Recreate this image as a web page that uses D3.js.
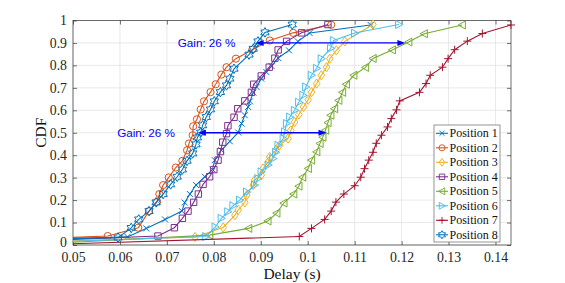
<!DOCTYPE html>
<html><head><meta charset="utf-8">
<script src="https://cdn.jsdelivr.net/npm/d3@7"></script>
<style>body{margin:0;background:#fff;} svg{display:block;}</style>
</head><body>
<svg id="chart" width="565" height="283"></svg>
<script>
// ---------- data ----------
const seriesNames = ["Position 1","Position 2","Position 3","Position 4","Position 5","Position 6","Position 7","Position 8"];
const seriesColors = ["#0072BD","#D95319","#EDB120","#7E2F8E","#77AC30","#4DBEEE","#A2142F","#0072BD"];
const seriesMarkers = ["x","o","d","s","<",">","+","h"];

const pos1Delay = [0.045,0.0616,0.0656,0.0696,0.0732,0.0738,0.0749,0.0762,0.0781,0.0797,0.0802,0.0816,0.0834,0.0852,0.0859,0.0866,0.0873,0.0877,0.0884,0.0891,0.0901,0.0912,0.0923,0.0937,0.0960,0.0979,0.1004,0.1134];
const pos1Cdf   = [0.025,0.036,0.074,0.114,0.151,0.189,0.227,0.267,0.304,0.336,0.378,0.422,0.462,0.501,0.541,0.578,0.615,0.640,0.679,0.704,0.741,0.770,0.797,0.833,0.867,0.907,0.944,0.980];

const pos2Delay = [0.045,0.0574,0.0639,0.0662,0.0679,0.0684,0.0692,0.0704,0.0719,0.0733,0.0743,0.0747,0.0755,0.0756,0.0764,0.0772,0.0779,0.0793,0.0804,0.0816,0.0827,0.0847,0.0882,0.0919,0.0969,0.1050];
const pos2Cdf   = [0.030,0.040,0.077,0.151,0.192,0.227,0.267,0.301,0.345,0.375,0.422,0.452,0.489,0.529,0.560,0.604,0.640,0.681,0.716,0.759,0.792,0.830,0.870,0.911,0.945,0.981];

const pos3Delay = [0.045,0.0760,0.0820,0.0845,0.0852,0.0866,0.0870,0.0884,0.0887,0.0901,0.0905,0.0916,0.0919,0.0932,0.0940,0.0958,0.0964,0.0972,0.0981,0.0991,0.1001,0.1008,0.1019,0.1029,0.1040,0.1047,0.1061,0.1079,0.1139];
const pos3Cdf   = [0.015,0.036,0.078,0.133,0.156,0.190,0.222,0.267,0.289,0.311,0.341,0.370,0.392,0.422,0.444,0.474,0.511,0.548,0.581,0.615,0.647,0.681,0.719,0.756,0.792,0.830,0.867,0.907,0.982];

const pos4Delay = [0.045,0.0681,0.0716,0.0733,0.0745,0.0757,0.0767,0.0777,0.0791,0.0800,0.0809,0.0814,0.0819,0.0827,0.0830,0.0843,0.0851,0.0866,0.0880,0.0885,0.0901,0.0918,0.0930,0.0937,0.0955,0.0987,0.1043];
const pos4Cdf   = [0.021,0.040,0.077,0.119,0.151,0.190,0.227,0.270,0.304,0.336,0.378,0.416,0.458,0.496,0.531,0.569,0.607,0.642,0.680,0.716,0.753,0.792,0.832,0.869,0.907,0.945,0.982];

const pos5Delay = [0.045,0.0791,0.0874,0.0915,0.0934,0.0949,0.0970,0.0981,0.0989,0.1001,0.1008,0.1019,0.1026,0.1032,0.1038,0.1043,0.1049,0.1057,0.1066,0.1074,0.1082,0.1098,0.1123,0.1139,0.1180,0.1215,0.1248,0.1329];
const pos5Cdf   = [0.007,0.044,0.074,0.107,0.142,0.187,0.227,0.262,0.302,0.341,0.378,0.415,0.452,0.480,0.511,0.545,0.578,0.607,0.644,0.680,0.716,0.756,0.791,0.831,0.869,0.904,0.941,0.980];

const pos6Delay = [0.045,0.0783,0.0803,0.0816,0.0830,0.0841,0.0855,0.0870,0.0887,0.0894,0.0901,0.0916,0.0926,0.0932,0.0937,0.0948,0.0951,0.0955,0.0962,0.0972,0.0981,0.0990,0.0996,0.1008,0.1019,0.1029,0.1049,0.1055,0.1100,0.1194];
const pos6Cdf   = [0.013,0.038,0.080,0.119,0.148,0.175,0.200,0.236,0.267,0.296,0.326,0.356,0.385,0.413,0.444,0.474,0.504,0.541,0.570,0.600,0.636,0.667,0.704,0.756,0.787,0.830,0.876,0.911,0.944,0.982];

const pos7Delay = [0.045,0.0982,0.1008,0.1036,0.1050,0.1060,0.1077,0.1100,0.1113,0.1121,0.1130,0.1139,0.1146,0.1157,0.1170,0.1178,0.1189,0.1196,0.1238,0.1252,0.1261,0.1287,0.1299,0.1313,0.1340,0.1372,0.1433];
const pos7Cdf   = [0.002,0.038,0.074,0.114,0.151,0.191,0.227,0.264,0.302,0.340,0.378,0.413,0.453,0.489,0.526,0.563,0.602,0.642,0.680,0.719,0.756,0.792,0.830,0.870,0.908,0.942,0.980];

const pos8Delay = [0.045,0.0596,0.0624,0.0640,0.0662,0.0677,0.0692,0.0708,0.0722,0.0733,0.0743,0.0755,0.0762,0.0765,0.0772,0.0776,0.0784,0.0793,0.0801,0.0814,0.0827,0.0834,0.0843,0.0875,0.0884,0.0894,0.0909,0.0967];
const pos8Cdf   = [0.028,0.033,0.076,0.114,0.151,0.190,0.227,0.270,0.304,0.336,0.375,0.408,0.448,0.479,0.501,0.533,0.570,0.604,0.640,0.681,0.711,0.741,0.785,0.848,0.874,0.907,0.947,0.982];

const xTicks = [0.05,0.06,0.07,0.08,0.09,0.1,0.11,0.12,0.13,0.14];
const xTickLabels = ["0.05","0.06","0.07","0.08","0.09","0.1","0.11","0.12","0.13","0.14"];
const yTicks = [0,0.1,0.2,0.3,0.4,0.5,0.6,0.7,0.8,0.9,1];
const yTickLabels = ["0","0.1","0.2","0.3","0.4","0.5","0.6","0.7","0.8","0.9","1"];

// annotations (data units)
const arrowCdf  = [0.9, 0.5];
const arrowFrom = [0.0889, 0.0766];
const arrowTo   = [0.1208, 0.1040];
const gainText  = ["Gain: 26 %", "Gain: 26 %"];
const gainTextDelay = [0.0723, 0.0594];

const allDelay = [pos1Delay,pos2Delay,pos3Delay,pos4Delay,pos5Delay,pos6Delay,pos7Delay,pos8Delay];
const allCdf   = [pos1Cdf,pos2Cdf,pos3Cdf,pos4Cdf,pos5Cdf,pos6Cdf,pos7Cdf,pos8Cdf];

// ---------- layout ----------
const L = 73, R = 511, T = 20.5, B = 245;
const x = d3.scaleLinear().domain([0.05, 0.1433]).range([L, R]);
const y = d3.scaleLinear().domain([0, 1]).range([B, T]);

const svg = d3.select("#chart");
const serif = "'Liberation Serif','Times New Roman',serif";
const sans = "'Liberation Sans',Arial,Helvetica,sans-serif";

svg.append("defs").append("clipPath").attr("id","plotclip")
  .append("rect").attr("x",L).attr("y",T-6).attr("width",R-L).attr("height",B-T+6);

// grid
const grid = svg.append("g");
grid.selectAll(".gx").data(xTicks).enter().append("line")
  .attr("x1",d=>x(d)).attr("x2",d=>x(d)).attr("y1",T).attr("y2",B)
  .attr("stroke","#e3e3e3").attr("stroke-width",0.8);
grid.selectAll(".gy").data(yTicks).enter().append("line")
  .attr("x1",L).attr("x2",R).attr("y1",d=>y(d)).attr("y2",d=>y(d))
  .attr("stroke","#e3e3e3").attr("stroke-width",0.8);

// axes via d3 axis (inner ticks)
const axColor = "#333";
const xAxisB = d3.axisBottom(x).tickValues(xTicks).tickFormat((d,i)=>xTickLabels[i]).tickSizeInner(-4).tickSizeOuter(0).tickPadding(7);
const xAxisT = d3.axisTop(x).tickValues(xTicks).tickFormat("").tickSizeInner(-4).tickSizeOuter(0);
const yAxisL = d3.axisLeft(y).tickValues(yTicks).tickFormat((d,i)=>yTickLabels[i]).tickSizeInner(-4).tickSizeOuter(0).tickPadding(6);
const yAxisR = d3.axisRight(y).tickValues(yTicks).tickFormat("").tickSizeInner(-4).tickSizeOuter(0);

function styleAxis(g){
  g.select(".domain").remove();
  g.selectAll(".tick line").attr("stroke",axColor).attr("stroke-width",0.7);
  g.selectAll(".tick text").attr("fill","#262626").style("font-family",serif).style("font-size","13.8px");
}
svg.append("g").attr("transform",`translate(0,${B})`).call(xAxisB).call(styleAxis);
svg.append("g").attr("transform",`translate(0,${T})`).call(xAxisT).call(styleAxis);
const yAxG = svg.append("g").attr("transform",`translate(${L},0)`).call(yAxisL).call(styleAxis);
// lift the "0" label a little so it clears the first x label
yAxG.selectAll(".tick text").filter(d=>d===0).attr("dy","0.12em");

svg.append("rect").attr("x",L).attr("y",T).attr("width",R-L).attr("height",B-T)
  .attr("fill","none").attr("stroke",axColor).attr("stroke-width",0.7);
svg.append("g").attr("transform",`translate(${R},0)`).call(yAxisR).call(styleAxis);

// axis labels
svg.append("text").attr("x",(L+R)/2).attr("y",278.5).attr("text-anchor","middle")
  .style("font-family",serif).style("font-size","15.5px").attr("fill","#111").text("Delay (s)");
svg.append("text").attr("transform",`translate(46,${(T+B)/2}) rotate(-90)`).attr("text-anchor","middle")
  .style("font-family",serif).style("font-size","15.5px").attr("fill","#111").text("CDF");

// markers
function hexagram(r){
  const pts=[]; const ri=r/Math.sqrt(3);
  for(let k=0;k<12;k++){const a=-Math.PI/2+k*Math.PI/6; const rr=k%2===0?r:ri; pts.push([rr*Math.cos(a),rr*Math.sin(a)]);}
  return "M"+pts.map(p=>p[0].toFixed(2)+","+p[1].toFixed(2)).join("L")+"Z";
}
function markerPath(t){
  switch(t){
    case "x": return "M-3,-3L3,3M-3,3L3,-3";
    case "o": return "M3.6,0A3.6,3.6 0 1,1 -3.6,0A3.6,3.6 0 1,1 3.6,0Z";
    case "d": return "M0,-4.6L3.3,0L0,4.6L-3.3,0Z";
    case "s": return "M-3.2,-3.2H3.2V3.2H-3.2Z";
    case "<": return "M-4,0L3.2,-4L3.2,4Z";
    case ">": return "M4,0L-3.2,-4L-3.2,4Z";
    case "+": return "M-4,0H4M0,-4V4";
    case "h": return hexagram(4.8);
  }
}

const line = d3.line().x(d=>x(d[0])).y(d=>y(d[1]));
const plot = svg.append("g");
allDelay.forEach((dl,i)=>{
  const pts = dl.map((v,j)=>[v, allCdf[i][j]]);
  const g = plot.append("g");
  g.append("path").attr("d",line(pts)).attr("fill","none").attr("stroke",seriesColors[i])
    .attr("stroke-width",1.1).attr("clip-path","url(#plotclip)");
  g.selectAll("path.m").data(pts.filter(p=>p[0]>=0.05)).enter().append("path").attr("class","m")
    .attr("transform",p=>`translate(${x(p[0])},${y(p[1])})`)
    .attr("d",markerPath(seriesMarkers[i])).attr("fill","none")
    .attr("stroke",seriesColors[i]).attr("stroke-width",1);
});

// arrows + gain text
const ann = svg.append("g");
const blue = "#0000FF";
arrowCdf.forEach((p,i)=>{
  const yy=y(p), x1=x(arrowFrom[i]), x2=x(arrowTo[i]);
  ann.append("line").attr("x1",x1+6).attr("x2",x2-6).attr("y1",yy).attr("y2",yy)
    .attr("stroke",blue).attr("stroke-width",1.3);
  ann.append("path").attr("d",`M${x1},${yy}L${x1+8},${yy-3}L${x1+8},${yy+3}Z`).attr("fill",blue);
  ann.append("path").attr("d",`M${x2},${yy}L${x2-8},${yy-3}L${x2-8},${yy+3}Z`).attr("fill",blue);
  ann.append("text").attr("x",x(gainTextDelay[i])).attr("y",yy).attr("dy","0.36em")
    .style("font-family",sans).style("font-size","11.7px").attr("fill",blue).text(gainText[i]);
});

// legend
const lg = svg.append("g");
const lx=434, ly=125, lw=66, lh=117;
lg.append("rect").attr("x",lx).attr("y",ly).attr("width",lw).attr("height",lh)
  .attr("fill","#fff").attr("stroke","#7a7a7a").attr("stroke-width",0.8);
seriesNames.forEach((n,i)=>{
  const yy = 133.3 + i*14.5;
  lg.append("line").attr("x1",436).attr("x2",448).attr("y1",yy).attr("y2",yy)
    .attr("stroke",seriesColors[i]).attr("stroke-width",1.1);
  lg.append("path").attr("transform",`translate(442,${yy}) scale(0.85)`).attr("d",markerPath(seriesMarkers[i]))
    .attr("fill","none").attr("stroke",seriesColors[i]).attr("stroke-width",1.1);
  lg.append("text").attr("x",449.5).attr("y",yy).attr("dy","0.34em")
    .style("font-family",serif).style("font-size","12px").attr("fill","#111").text(n);
});
</script>
</body></html>
